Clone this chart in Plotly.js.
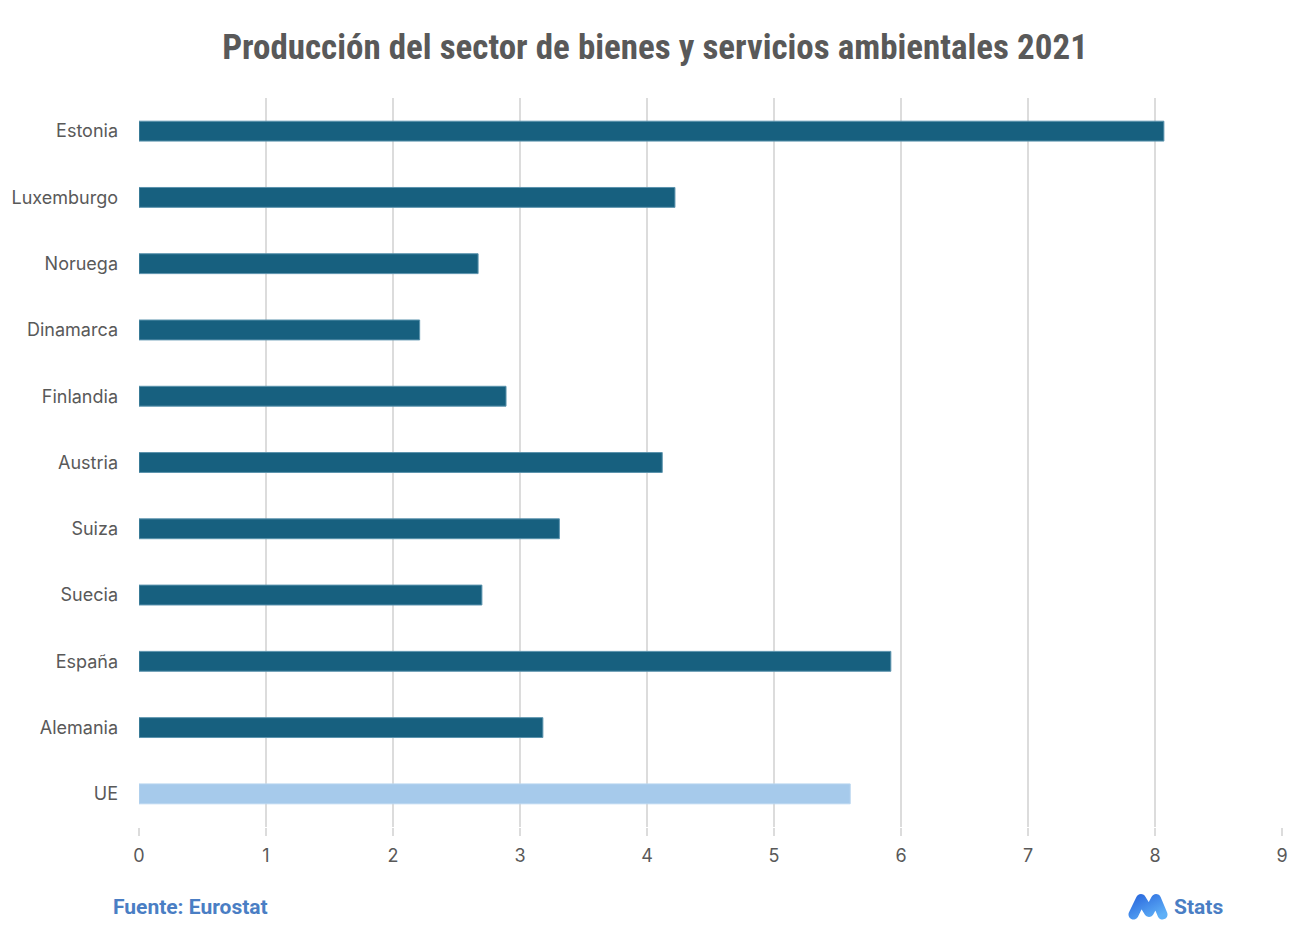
<!DOCTYPE html>
<html>
<head>
<meta charset="utf-8">
<script src="https://cdn.plot.ly/plotly-3.0.1.min.js"></script>
<style>
html,body{margin:0;padding:0;background:#fff;}
#chart{width:1310px;height:944px;}
</style>
</head>
<body>
<div id="chart"></div>
<script>
const countries = ["Estonia","Luxemburgo","Noruega","Dinamarca","Finlandia","Austria","Suiza","Suecia","España","Alemania","UE"];
const values = [8.07,4.22,2.67,2.21,2.89,4.12,3.31,2.70,5.92,3.18,5.60];
const highlight = "UE";
const xTicks = [0,1,2,3,4,5,6,7,8,9];

const darkColor = "#17607f";
const lightColor = "#a6caeb";
const colors = countries.map(c => c === highlight ? lightColor : darkColor);
const lineColors = countries.map(c => c === highlight ? "#b9d6f0" : "#5b93ad");

const logoSvg = '<svg xmlns="http://www.w3.org/2000/svg" viewBox="0 0 40 27" width="40" height="27">' +
 '<defs><linearGradient id="g" x1="0" y1="0" x2="1" y2="1"><stop offset="0" stop-color="#2f6fe0"/><stop offset="1" stop-color="#5fb0f7"/></linearGradient></defs>' +
 '<path d="M5.5 21.5 L13 6 L21 19 L28 6 L34.5 21.5" fill="none" stroke="url(#g)" stroke-width="10" stroke-linecap="round" stroke-linejoin="round"/></svg>';
const logoUri = "data:image/svg+xml;base64," + btoa(logoSvg);

const trace = {
  type: "bar",
  orientation: "h",
  y: countries,
  x: values,
  width: 0.3,
  marker: {color: colors, line: {color: lineColors, width: 1}},
  hoverinfo: "x+y"
};

const layout = {
  width: 1310, height: 944,
  paper_bgcolor: "#ffffff", plot_bgcolor: "#ffffff",
  margin: {l: 139, r: 28, t: 98, b: 117},
  showlegend: false,
  font: {family: "Inter, Roboto, sans-serif", color: "#595959", size: 18},
  title: {
    text: "<b>Producción del sector de bienes y servicios ambientales 2021</b>",
    font: {family: "'Liberation Sans Narrow', 'Roboto Condensed', Roboto, sans-serif", size: 35, color: "#595959"},
    x: 0.5, xanchor: "center", xref: "container",
    y: 1 - 47/944, yanchor: "middle", yref: "container"
  },
  xaxis: {
    range: [0, 9],
    tickvals: xTicks,
    ticktext: xTicks.map(String),
    showgrid: true, gridcolor: "#dcdcdc", gridwidth: 2,
    zeroline: false, showline: false,
    ticks: "outside", ticklen: 8, tickwidth: 2, tickcolor: "#dcdcdc",
    ticklabelstandoff: 4,
    tickfont: {size: 18, color: "#595959"},
    fixedrange: true
  },
  yaxis: {
    autorange: "reversed",
    categoryorder: "array", categoryarray: countries,
    showgrid: false, zeroline: false, showline: false,
    ticks: "", ticklabelstandoff: 20,
    tickfont: {size: 18, color: "#595959"},
    fixedrange: true
  },
  annotations: [
    {text: "<b>Fuente: Eurostat</b>", xref: "paper", yref: "paper",
     x: (111-139)/1143, y: (827-907)/729, xanchor: "left", yanchor: "middle",
     showarrow: false, font: {family: "Roboto, sans-serif", size: 21, color: "#4a7ec4"}},
    {text: "<b>Stats</b>", xref: "paper", yref: "paper",
     x: (1172-139)/1143, y: (827-907)/729, xanchor: "left", yanchor: "middle",
     showarrow: false, font: {family: "Roboto, sans-serif", size: 21, color: "#4a7ec4"}}
  ],
  images: [
    {source: logoUri, xref: "paper", yref: "paper",
     x: (1128-139)/1143, y: (827-893)/729, sizex: 40/1143, sizey: 27/729,
     xanchor: "left", yanchor: "top", sizing: "stretch", layer: "above"}
  ]
};

Plotly.newPlot("chart", [trace], layout, {displayModeBar: false, staticPlot: true});
</script>
</body>
</html>
